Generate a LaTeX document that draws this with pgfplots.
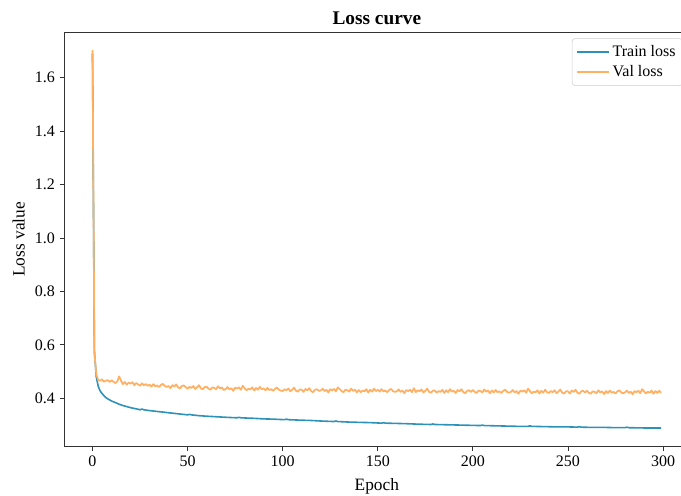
\documentclass[border=0pt]{standalone}
\usepackage{fontspec}
\setmainfont{Liberation Serif}
\usepackage{pgfplots}
\pgfplotsset{compat=1.18}
\definecolor{trainc}{RGB}{44,146,184}
\definecolor{valc}{RGB}{255,176,98}

\begin{document}
\begin{tikzpicture}
  % picture is cut at the right, like the reference (right spine off-page)
  \useasboundingbox (-48.05pt,-36.4pt) rectangle (462.7pt,334.9pt);
  \clip (-48.05pt,-36.4pt) rectangle (462.7pt,334.9pt);
  \begin{axis}[
    scale only axis,
    width=469.1pt,height=310.8pt,
    xmin=-14.95,xmax=313.95,ymin=0.2195,ymax=1.7705,
    xtick={0,50,...,300},
    ytick={0.4,0.6,0.8,1.0,1.2,1.4,1.6},
    yticklabel style={/pgf/number format/fixed,/pgf/number format/fixed zerofill,
      /pgf/number format/precision=1},
    /pgf/number format/assume math mode=true,
    ticklabel style={font=\fontsize{12}{14}\selectfont},
    xtick pos=lower,ytick pos=lower,
    tick align=outside,major tick length=3.3pt,
    tick style={black!80,line width=0.6pt},
    axis line style={black!80,line width=0.8pt},
    minor tick num=0,
    title={\textbf{Loss curve}},
    title style={font=\fontsize{14.5}{16}\selectfont,
      at={([yshift=0pt]axis description cs:0.5,1)},anchor=base},
    xlabel={Epoch},
    ylabel={Loss value},
    xlabel style={font=\fontsize{13}{15}\selectfont,
      at={([yshift=-33.2pt]axis description cs:0.5,0)},anchor=base},
    ylabel style={font=\fontsize{13}{15}\selectfont,
      at={([xshift=-34pt]axis description cs:0,0.5)},anchor=center,rotate=0},
    legend style={at={(1,1)},xshift=-5.25pt,yshift=-4.7pt,anchor=north east,
      draw=black!20,rounded corners=2pt,fill=white,
      font=\fontsize{12}{14}\selectfont,
      inner xsep=3pt,inner ysep=3pt,row sep=1.5pt,cells={anchor=west}},
    legend image code/.code={\draw[#1] (0pt,0pt) -- (24pt,0pt);},
    no markers,
  ]
    \addlegendimage{trainc,line width=1.2pt}
    \addlegendentry{Train loss}
    \addlegendimage{valc,line width=1.3pt}
    \addlegendentry{Val loss}
    % train loss (smooth, small bumps every ~25 epochs)
    \addplot[trainc,line width=1.2pt,line join=round,forget plot] coordinates {
      (0,1.690)(1,0.575)(2,0.480)(3,0.445)(4,0.428)(5,0.418)(6,0.410)(7,0.403)
      (8,0.398)(9,0.394)(10,0.390)(12,0.384)(14,0.378)(16,0.373)(18,0.369)
      (20,0.365)(22,0.362)(24,0.359)(25,0.357)(26,0.360)(27,0.357)(30,0.354)
      (35,0.350)(40,0.346)(45,0.342)(50,0.338)(51,0.340)(52,0.338)(56,0.335)
      (60,0.333)(65,0.331)(70,0.329)(76,0.327)(77,0.329)(78,0.327)(85,0.325)
      (90,0.323)(95,0.322)(101,0.320)(102,0.322)(103,0.320)(110,0.318)
      (115,0.317)(120,0.315)(127,0.313)(128,0.315)(129,0.313)(135,0.311)
      (140,0.310)(146,0.309)(152,0.307)(153,0.309)(154,0.307)(160,0.306)
      (165,0.305)(172,0.303)(178,0.302)(179,0.304)(180,0.302)(186,0.301)
      (192,0.300)(198,0.299)(204,0.298)(205,0.300)(206,0.298)(212,0.297)
      (218,0.296)(224,0.295)(229,0.295)(230,0.297)(231,0.295)(238,0.294)
      (244,0.293)(250,0.293)(255,0.292)(256,0.294)(257,0.292)(263,0.291)
      (270,0.291)(276,0.290)(280,0.290)(281,0.292)(282,0.290)(290,0.289)
      (299,0.289)
    };
    % val loss, one value per epoch
    \addplot[valc,line width=1.3pt,line join=round,forget plot] coordinates {
      (0,1.703)(1,0.570)(2,0.490)(3,0.468)(4,0.466)(5,0.471)(6,0.462)(7,0.466)(8,0.468)(9,0.461)
      (10,0.467)(11,0.462)(12,0.457)(13,0.463)(14,0.482)(15,0.466)(16,0.453)(17,0.461)(18,0.451)(19,0.459)
      (20,0.455)(21,0.460)(22,0.449)(23,0.457)(24,0.452)(25,0.447)(26,0.456)(27,0.449)(28,0.453)(29,0.447)
      (30,0.451)(31,0.444)(32,0.453)(33,0.445)(34,0.448)(35,0.442)(36,0.450)(37,0.454)(38,0.446)(39,0.443)
      (40,0.446)(41,0.438)(42,0.449)(43,0.444)(44,0.452)(45,0.441)(46,0.437)(47,0.446)(48,0.448)(49,0.442)
      (50,0.436)(51,0.443)(52,0.439)(53,0.446)(54,0.435)(55,0.441)(56,0.449)(57,0.437)(58,0.434)(59,0.442)
      (60,0.443)(61,0.436)(62,0.432)(63,0.441)(64,0.439)(65,0.434)(66,0.445)(67,0.437)(68,0.441)(69,0.431)
      (70,0.435)(71,0.442)(72,0.433)(73,0.438)(74,0.428)(75,0.440)(76,0.436)(77,0.441)(78,0.432)(79,0.447)
      (80,0.438)(81,0.430)(82,0.436)(83,0.433)(84,0.441)(85,0.429)(86,0.439)(87,0.432)(88,0.443)(89,0.434)
      (90,0.437)(91,0.430)(92,0.439)(93,0.431)(94,0.434)(95,0.428)(96,0.436)(97,0.440)(98,0.432)(99,0.429)
      (100,0.427)(101,0.434)(102,0.430)(103,0.437)(104,0.426)(105,0.432)(106,0.440)(107,0.428)(108,0.425)(109,0.433)
      (110,0.432)(111,0.424)(112,0.435)(113,0.430)(114,0.438)(115,0.427)(116,0.423)(117,0.432)(118,0.434)(119,0.428)
      (120,0.429)(121,0.436)(122,0.427)(123,0.432)(124,0.422)(125,0.434)(126,0.430)(127,0.435)(128,0.426)(129,0.441)
      (130,0.434)(131,0.427)(132,0.423)(133,0.432)(134,0.430)(135,0.425)(136,0.436)(137,0.428)(138,0.432)(139,0.422)
      (140,0.431)(141,0.423)(142,0.429)(143,0.426)(144,0.434)(145,0.422)(146,0.432)(147,0.425)(148,0.436)(149,0.427)
      (150,0.432)(151,0.425)(152,0.434)(153,0.426)(154,0.429)(155,0.423)(156,0.431)(157,0.435)(158,0.427)(159,0.424)
      (160,0.426)(161,0.433)(162,0.424)(163,0.429)(164,0.419)(165,0.431)(166,0.427)(167,0.432)(168,0.423)(169,0.438)
      (170,0.423)(171,0.430)(172,0.426)(173,0.433)(174,0.422)(175,0.428)(176,0.436)(177,0.424)(178,0.421)(179,0.429)
      (180,0.429)(181,0.421)(182,0.427)(183,0.424)(184,0.432)(185,0.420)(186,0.430)(187,0.423)(188,0.434)(189,0.425)
      (190,0.428)(191,0.420)(192,0.431)(193,0.426)(194,0.434)(195,0.423)(196,0.419)(197,0.428)(198,0.430)(199,0.424)
      (200,0.431)(201,0.424)(202,0.420)(203,0.429)(204,0.427)(205,0.422)(206,0.433)(207,0.425)(208,0.429)(209,0.419)
      (210,0.429)(211,0.422)(212,0.431)(213,0.423)(214,0.426)(215,0.420)(216,0.428)(217,0.432)(218,0.424)(219,0.421)
      (220,0.424)(221,0.431)(222,0.422)(223,0.427)(224,0.417)(225,0.429)(226,0.425)(227,0.430)(228,0.421)(229,0.436)
      (230,0.427)(231,0.419)(232,0.425)(233,0.422)(234,0.430)(235,0.418)(236,0.428)(237,0.421)(238,0.432)(239,0.423)
      (240,0.420)(241,0.427)(242,0.423)(243,0.430)(244,0.419)(245,0.425)(246,0.433)(247,0.421)(248,0.418)(249,0.426)
      (250,0.426)(251,0.418)(252,0.429)(253,0.424)(254,0.432)(255,0.421)(256,0.417)(257,0.426)(258,0.428)(259,0.422)
      (260,0.428)(261,0.421)(262,0.417)(263,0.426)(264,0.424)(265,0.419)(266,0.430)(267,0.422)(268,0.426)(269,0.416)
      (270,0.427)(271,0.420)(272,0.429)(273,0.421)(274,0.424)(275,0.418)(276,0.426)(277,0.430)(278,0.422)(279,0.419)
      (280,0.422)(281,0.429)(282,0.420)(283,0.425)(284,0.415)(285,0.427)(286,0.423)(287,0.428)(288,0.419)(289,0.434)
      (290,0.426)(291,0.418)(292,0.424)(293,0.421)(294,0.429)(295,0.417)(296,0.427)(297,0.420)(298,0.428)(299,0.421)
    };
  \end{axis}
\end{tikzpicture}
\end{document}
